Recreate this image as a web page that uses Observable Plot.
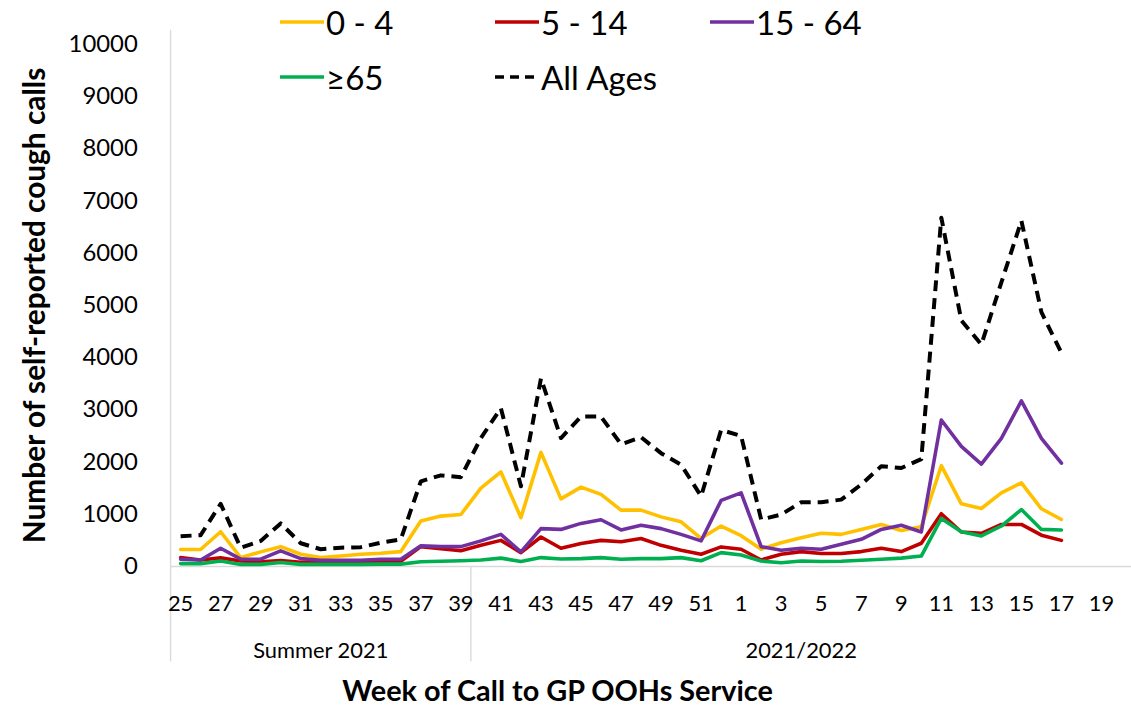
<!DOCTYPE html>
<html>
<head>
<meta charset="utf-8">
<script src="https://cdn.jsdelivr.net/npm/d3@7"></script>
<script src="https://cdn.jsdelivr.net/npm/@observablehq/plot@0.6"></script>
<style>
  html, body { margin: 0; padding: 0; background: #fff; overflow: hidden; }
  #wrap { position: relative; width: 1131px; height: 715px; overflow: hidden; font-family: Lato, "Open Sans", sans-serif; }
  #chart svg { display: block; }
  .leg { position: absolute; display: flex; align-items: center; font-size: 33px; color: #000; white-space: nowrap; }
  .leg svg { display: block; margin-right: 2px; }
</style>
</head>
<body>
<div id="wrap"><div id="chart"></div><div id="legend"></div></div>
<script>
// Week categories on the axis (2021 weeks 25-52, then 2022 weeks 1-20)
const weekLabels = [25,26,27,28,29,30,31,32,33,34,35,36,37,38,39,40,41,42,43,44,45,46,47,48,49,50,51,52,
                    1,2,3,4,5,6,7,8,9,10,11,12,13,14,15,16,17,18,19,20];
const groupNames = ["Summer 2021", "2021/2022"];
const groupStarts = [0, 15];
const groupEnds = [14, 47];
const yTicks = [0,1000,2000,3000,4000,5000,6000,7000,8000,9000,10000];

const seriesNames = ["0 - 4", "5 - 14", "15 - 64", "\u226565", "All Ages"];
const seriesColors = ["#FFC000", "#C00000", "#7030A0", "#00B050", "#000000"];

// Values for weeks 25..52 (2021) and 1..17 (2022)
const age0_4 = [325,325,665,170,280,380,235,170,200,235, 255,285,870,965,995,1500,1810,935,2185,
                1295,1520,1380,1080,1080,950,855,540,775, 590,330,455,550,635,615,710,805,690,760,
                1930,1200,1110,1410,1600,1105,900];
const age5_14 = [170,125,165,105,90,115,80,80,80,80, 100,100,380,340,300,405,500,265,565,
                 350,440,500,475,535,405,310,235,375, 330,125,235,285,250,250,285,350,285,445,
                 1010,660,635,805,805,600,500];
const age15_64 = [140,125,350,140,140,300,150,120,120,120, 140,140,395,380,380,490,615,280,725,
                  710,825,895,700,790,725,615,490,1265, 1410,380,310,350,330,425,520,710,790,660,
                  2805,2300,1960,2455,3170,2455,1980];
const age65 = [55,55,105,40,40,75,40,40,40,40, 45,45,90,100,110,125,160,95,170,
               145,150,170,140,150,150,170,110,265, 220,105,70,105,95,100,120,140,160,200,
               920,665,585,775,1090,710,700];
const allAges = [580,600,1200,360,490,825,445,330,360,370, 455,520,1630,1745,1710,2460,3030,1535,3600,
                 2460,2870,2870,2340,2475,2170,1950,1345,2615, 2500,900,995,1230,1230,1280,1570,1920,1885,2055,
                 6680,4710,4250,5440,6620,4870,4090];

const seriesValues = [age0_4, age5_14, age15_64, age65, allAges];
const series = seriesNames.map((name, k) => ({
  name, color: seriesColors[k],
  data: seriesValues[k].map((v, i) => ({i, v}))
}));
const groups = groupNames.map((g, k) => ({label: g, start: groupStarts[k], end: groupEnds[k]}));
const tickIdx = weekLabels.map((w, i) => i).filter(i => i % 2 === 0);

const W = 1137, H = 715;
const font = "Lato, 'Open Sans', sans-serif";

const lineMarks = series.map(s => Plot.line(s.data, {
  x: "i", y: "v", stroke: s.color,
  strokeWidth: s.name === "All Ages" ? 4 : 3.6,
  strokeDasharray: s.name === "All Ages" ? "11,7" : null,
  strokeLinejoin: "round", strokeLinecap: s.name === "All Ages" ? "butt" : "round"
}));

const chart = Plot.plot({
  width: W, height: H,
  marginLeft: 171, marginRight: 0, marginTop: 44, marginBottom: 146,
  style: {fontFamily: font, color: "#000", background: "#fff"},
  x: {type: "linear", domain: [-0.5, weekLabels.length - 0.5]},
  y: {domain: [0, 10000]},
  marks: [
    Plot.ruleY([0], {stroke: "#d9d9d9", strokeWidth: 1.3}),
    Plot.ruleX(groups, {x: d => d.start - 0.5, stroke: "#d9d9d9", strokeWidth: 1.3,
      filter: d => d.start === 0, insetTop: -14, insetBottom: -96}),
    Plot.ruleX(groups, {x: d => d.start - 0.5, stroke: "#d9d9d9", strokeWidth: 1.3,
      filter: d => d.start !== 0, insetTop: 525, insetBottom: -96}),
    Plot.axisY({ticks: yTicks, tickSize: 0, tickPadding: 33, fontSize: 24, label: null, tickFormat: d => String(d)}),
    Plot.axisX({ticks: tickIdx, tickFormat: i => String(weekLabels[i]), tickSize: 0, tickPadding: 29, fontSize: 22, label: null}),
    Plot.text(groups, {x: d => (d.start + d.end) / 2, text: "label", frameAnchor: "bottom",
      lineAnchor: "top", dy: 76, fontSize: 22}),
    Plot.text(["Number of self-reported cough calls"], {frameAnchor: "left", dx: -136, rotate: -90,
      textAnchor: "middle", lineAnchor: "middle", fontSize: 30, fontWeight: "bold"}),
    Plot.text(["Week of Call to GP OOHs Service"], {frameAnchor: "bottom-left", dx: 389, dy: 126,
      textAnchor: "middle", lineAnchor: "middle", fontSize: 29, fontWeight: "bold"}),
    ...lineMarks
  ]
});
document.getElementById("chart").appendChild(chart);

// Legend (overlaid at top, two rows)
const legCols = [280, 495, 710];
const legRows = [22, 77];
const legend = document.getElementById("legend");
series.forEach((s, k) => {
  const col = k < 3 ? k : k - 3;
  const row = k < 3 ? 0 : 1;
  const div = document.createElement("div");
  div.className = "leg";
  div.style.left = legCols[col] + "px";
  div.style.top = (legRows[row] - 22) + "px";
  div.style.height = "44px";
  const dash = s.name === "All Ages" ? 'stroke-dasharray="9,6"' : "";
  div.innerHTML = `<svg width="44" height="10"><line x1="0" x2="44" y1="5" y2="5" stroke="${s.color}" stroke-width="3.5" ${dash}/></svg><span>${s.name}</span>`;
  legend.appendChild(div);
});
</script>
</body>
</html>
